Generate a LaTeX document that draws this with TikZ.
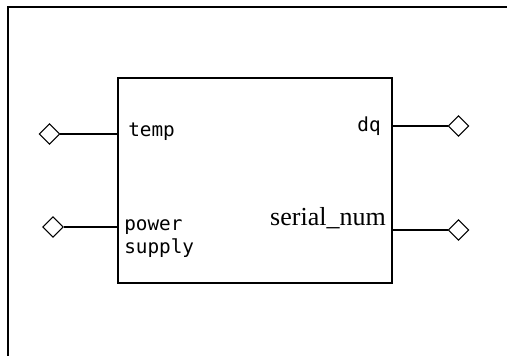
\documentclass[tikz,border=0pt]{standalone}
\usepackage{fontspec}
\usetikzlibrary{shapes.geometric}
\newfontfamily\pinfont{DejaVu Sans Mono}
\newfontfamily\numfont{Liberation Serif}

\begin{document}
\begin{tikzpicture}[
    x=0.75pt, y=-0.75pt,
    chip/.style={draw, line width=1.3pt, minimum width=206pt, minimum height=153.75pt, inner sep=0pt},
    port/.style={draw, diamond, line width=0.7pt, inner sep=0pt, minimum size=15.5pt},
    wire/.style={line width=0.8pt},
    pinlabel/.style={inner sep=0pt, font=\pinfont\fontsize{14.5}{17}\selectfont},
]
\useasboundingbox (0,0) rectangle (507,356);

% Outer frame (runs off the page)
\draw[line width=1pt] (8,360) -- (8,7) -- (512,7);

% Block
\node[chip] (ds) at (255,180.5) {};

% Pin points on the block edge
\coordinate (tempP) at (117,134);
\coordinate (powP) at (117,227);
\coordinate (dqP) at (393,126);
\coordinate (snP) at (393,230);

% Ports
\node[port] (tempIO) at (49.5,134) {};
\node[port] (powIO) at (53,227) {};
\node[port] (dqIO) at (458.5,126) {};
\node[port] (snIO) at (458.5,230) {};

\draw[wire] (tempIO) -- (tempP);
\draw[wire] (powIO) -- (powP);
\draw[wire] (dqP) -- (dqIO);
\draw[wire] (snP) -- (snIO);

% Labels
\node[pinlabel, anchor=base west] (tempL) at (128,137) {temp};
\node[pinlabel, anchor=north west, align=left] (powL) at (124,219.5) {power\\supply};
\node[pinlabel, anchor=base east] (dqL) at (381,132) {dq};
\node[inner sep=0pt, anchor=base east, font=\numfont\fontsize{19.5}{20}\selectfont] (snL) at (386,226) {serial\_num};

\end{tikzpicture}
\end{document}
